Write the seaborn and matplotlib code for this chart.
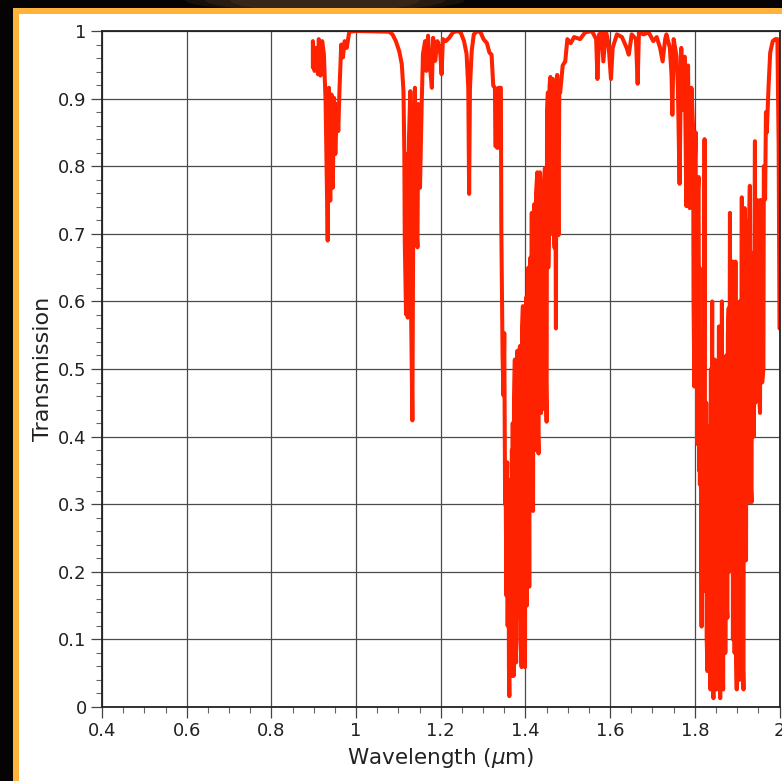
import numpy as np
import pandas as pd
import matplotlib
matplotlib.use('Agg')
import matplotlib.pyplot as plt
from matplotlib.patches import Rectangle, Ellipse
from matplotlib.ticker import MultipleLocator
import seaborn as sns

# wavelength (um) and transmission
wl_a = [0.898, 0.898, 0.902, 0.906, 0.910, 0.912, 0.916, 0.920, 0.924, 0.928,
        0.931, 0.933, 0.936, 0.939, 0.942, 0.945, 0.948, 0.951, 0.955, 0.958,
        0.961, 0.965, 0.969, 0.973, 0.978, 0.984, 1.000, 1.078, 1.086, 1.094,
        1.102, 1.108, 1.112, 1.114, 1.115, 1.118, 1.120, 1.122, 1.125, 1.128,
        1.130, 1.133, 1.136, 1.139, 1.142, 1.145, 1.147, 1.151, 1.155, 1.158,
        1.163, 1.166, 1.170, 1.174, 1.179, 1.182, 1.187, 1.192, 1.198, 1.202,
        1.205, 1.212, 1.220, 1.229, 1.239, 1.247, 1.255, 1.261, 1.265, 1.267,
        1.269, 1.273, 1.278, 1.286, 1.294]
tr_a = [0.946, 0.985, 0.941, 0.975, 0.936, 0.988, 0.934, 0.985, 0.966, 0.897,
        0.768, 0.690, 0.916, 0.749, 0.906, 0.768, 0.901, 0.818, 0.892, 0.852,
        0.916, 0.980, 0.961, 0.985, 0.975, 0.999, 1.000, 0.999, 0.995, 0.985,
        0.970, 0.951, 0.911, 0.818, 0.690, 0.581, 0.818, 0.576, 0.842, 0.911,
        0.581, 0.424, 0.867, 0.916, 0.719, 0.680, 0.892, 0.768, 0.892, 0.966,
        0.985, 0.941, 0.993, 0.951, 0.916, 0.990, 0.956, 0.985, 0.975, 0.936,
        0.988, 0.985, 0.990, 0.998, 1.000, 0.998, 0.985, 0.966, 0.916, 0.759,
        0.916, 0.970, 0.995, 1.000, 0.998]

wl_b = [1.301, 1.309, 1.315, 1.320, 1.324, 1.328, 1.329, 1.334, 1.337, 1.342,
        1.343, 1.346, 1.348, 1.350, 1.352, 1.353, 1.355, 1.356, 1.357, 1.358,
        1.360, 1.361, 1.362, 1.363, 1.365, 1.366, 1.367, 1.368, 1.369, 1.370,
        1.372, 1.373, 1.375, 1.376, 1.378, 1.379, 1.381, 1.382, 1.384, 1.385,
        1.387, 1.388, 1.391, 1.392, 1.394, 1.395, 1.397, 1.398, 1.399, 1.400,
        1.402, 1.403, 1.404, 1.406, 1.407, 1.409, 1.410, 1.412, 1.413, 1.415,
        1.416, 1.418, 1.419, 1.421, 1.422, 1.424, 1.425, 1.428, 1.429, 1.431,
        1.432, 1.434, 1.435, 1.437, 1.438, 1.440, 1.441, 1.443, 1.444, 1.446,
        1.448, 1.450, 1.451, 1.453, 1.454, 1.456, 1.457, 1.459, 1.460, 1.462,
        1.463, 1.465, 1.467, 1.469, 1.470, 1.472, 1.473, 1.475, 1.477, 1.478,
        1.480, 1.482, 1.488, 1.494,
        1.499, 1.507, 1.515, 1.529, 1.541, 1.557, 1.567, 1.570, 1.574, 1.580,
        1.584, 1.590, 1.596, 1.602, 1.606, 1.616, 1.628, 1.639, 1.644, 1.651,
        1.661, 1.665, 1.668, 1.679, 1.691, 1.702, 1.710, 1.718, 1.724, 1.730]
tr_b = [0.988, 0.982, 0.968, 0.965, 0.919, 0.916, 0.830, 0.827, 0.916, 0.916,
        0.711, 0.520, 0.461, 0.553, 0.300, 0.356, 0.165, 0.330, 0.362, 0.120,
        0.329, 0.060, 0.016, 0.300, 0.336, 0.100, 0.046, 0.380, 0.224, 0.420,
        0.046, 0.450, 0.514, 0.150, 0.066, 0.480, 0.527, 0.200, 0.132, 0.500,
        0.534, 0.100, 0.059, 0.560, 0.593, 0.200, 0.105, 0.550, 0.059, 0.450,
        0.606, 0.150, 0.520, 0.290, 0.650, 0.178, 0.620, 0.665, 0.300, 0.731,
        0.350, 0.290, 0.700, 0.744, 0.380, 0.422, 0.760, 0.791, 0.420, 0.375,
        0.720, 0.791, 0.450, 0.435, 0.750, 0.711, 0.460, 0.441, 0.780, 0.797,
        0.500, 0.422, 0.880, 0.909, 0.650, 0.731, 0.920, 0.932, 0.700, 0.705,
        0.920, 0.929, 0.700, 0.679, 0.900, 0.560, 0.880, 0.935, 0.800, 0.698,
        0.920, 0.909, 0.949, 0.955,
        0.988, 0.982, 0.991, 0.988, 0.998, 1.000, 0.988, 0.929, 0.995, 0.998,
        0.955, 1.000, 0.982, 0.929, 0.975, 0.995, 0.991, 0.975, 0.965, 0.995,
        0.988, 0.922, 0.998, 0.995, 0.998, 0.985, 0.991, 0.975, 0.955, 0.988]

wl_c = [1.733, 1.741, 1.745, 1.747, 1.750, 1.757, 1.760, 1.764, 1.768, 1.772,
        1.776, 1.780, 1.784, 1.788, 1.792, 1.796, 1.797, 1.799, 1.800, 1.802,
        1.803, 1.804, 1.806, 1.807, 1.809, 1.810, 1.811, 1.812, 1.813, 1.816,
        1.817, 1.818, 1.820, 1.821, 1.823, 1.824, 1.826, 1.827, 1.828, 1.830,
        1.831, 1.832, 1.834, 1.835, 1.837, 1.838, 1.839, 1.841, 1.842, 1.844,
        1.845, 1.846, 1.847, 1.849, 1.851, 1.852, 1.853, 1.854, 1.855, 1.857,
        1.858, 1.860, 1.861, 1.862, 1.864, 1.865, 1.867, 1.868, 1.870, 1.871,
        1.872, 1.874, 1.875, 1.877, 1.878, 1.880, 1.881, 1.883, 1.884, 1.886,
        1.887, 1.889, 1.890, 1.892, 1.893, 1.894, 1.896, 1.897, 1.899, 1.900,
        1.902, 1.903, 1.905, 1.906, 1.908, 1.909, 1.911, 1.912, 1.915, 1.916,
        1.918, 1.919, 1.921, 1.922, 1.924, 1.925, 1.927, 1.928, 1.930, 1.931,
        1.934, 1.935, 1.938, 1.939, 1.942, 1.943, 1.946, 1.947, 1.950, 1.951,
        1.954, 1.955, 1.958, 1.959, 1.962, 1.963, 1.966, 1.968, 1.970, 1.974,
        1.978, 1.984, 1.990, 1.995, 1.998, 2.000]
tr_c = [0.995, 0.975, 0.935, 0.876, 0.988, 0.962, 0.916, 0.774, 0.975, 0.883,
        0.962, 0.741, 0.949, 0.738, 0.916, 0.856, 0.600, 0.474, 0.800, 0.850,
        0.500, 0.700, 0.389, 0.760, 0.784, 0.350, 0.650, 0.329, 0.550, 0.119,
        0.450, 0.300, 0.553, 0.200, 0.840, 0.300, 0.171, 0.450, 0.100, 0.053,
        0.400, 0.150, 0.415, 0.080, 0.026, 0.500, 0.100, 0.600, 0.050, 0.013,
        0.450, 0.100, 0.514, 0.060, 0.026, 0.480, 0.100, 0.389, 0.050, 0.563,
        0.100, 0.013, 0.500, 0.150, 0.600, 0.060, 0.026, 0.450, 0.237, 0.500,
        0.080, 0.520, 0.150, 0.132, 0.550, 0.590, 0.200, 0.731, 0.250, 0.303,
        0.600, 0.659, 0.100, 0.369, 0.600, 0.080, 0.659, 0.100, 0.026, 0.500,
        0.527, 0.080, 0.040, 0.600, 0.514, 0.150, 0.754, 0.100, 0.026, 0.650,
        0.738, 0.250, 0.217, 0.650, 0.718, 0.350, 0.303, 0.700, 0.771, 0.350,
        0.303, 0.650, 0.672, 0.400, 0.837, 0.450, 0.501, 0.750, 0.698, 0.480,
        0.435, 0.750, 0.672, 0.480, 0.501, 0.800, 0.751, 0.880, 0.850, 0.916,
        0.968, 0.985, 0.988, 0.988, 0.830, 0.560]

df = pd.DataFrame({'wavelength': wl_a + wl_b + wl_c,
                   'transmission': tr_a + tr_b + tr_c})

sns.set_style('white')
plt.rcParams['font.family'] = ['DejaVu Sans']

W, H = 782, 781
fig = plt.figure(figsize=(W / 100, H / 100), dpi=100, facecolor='#050303')

# brownish blur peeking in at the top, then the orange frame and white panel
for w, a in [(280, 0.25), (240, 0.35), (190, 0.45)]:
    fig.patches.append(Ellipse((325 / W, 1.0), w / W, 24 / H, transform=fig.transFigure,
                               facecolor='#4a3320', edgecolor='none', alpha=a, zorder=-3))
fig.patches.append(Rectangle((13 / W, -0.1), 1.0, 1.1 - 7.5 / H, transform=fig.transFigure,
                             facecolor='#ffb33a', edgecolor='none', zorder=-2))
fig.patches.append(Rectangle((19 / W, -0.1), 1.0, 1.1 - 13.5 / H, transform=fig.transFigure,
                             facecolor='white', edgecolor='none', zorder=-1))

ax = fig.add_axes([102 / W, 1 - 707 / H, 677.5 / W, 676 / H])
ax.set_facecolor('white')

sns.lineplot(data=df, x='wavelength', y='transmission', sort=False, estimator=None,
             color='#ff2200', linewidth=2.9, ax=ax)

ax.set_xlim(0.4, 2.0)
ax.set_ylim(0, 1)
ax.set_xticks(np.arange(0.4, 2.01, 0.2))
ax.set_xticklabels(['0.4', '0.6', '0.8', '1', '1.2', '1.4', '1.6', '1.8', '2'])
ax.set_yticks(np.arange(0, 1.01, 0.1))
ax.set_yticklabels(['0', '0.1', '0.2', '0.3', '0.4', '0.5', '0.6', '0.7', '0.8', '0.9', '1'])
ax.xaxis.set_minor_locator(MultipleLocator(0.05))
ax.yaxis.set_minor_locator(MultipleLocator(0.02))

ax.grid(True, which='major', color='#4a4a4a', linewidth=0.9)
ax.set_axisbelow(True)
for s in ax.spines.values():
    s.set_color('#222222')
    s.set_linewidth(1.3)

ax.tick_params(which='major', direction='out', length=8, width=0.9, color='#444444',
               labelsize=13, labelcolor='#222222', pad=3)
ax.tick_params(which='minor', direction='out', length=4, width=0.8, color='#666666')
ax.tick_params(axis='x', which='both', bottom=True)
ax.tick_params(axis='y', which='both', left=True)

ax.set_xlabel(r'Wavelength ($\mu$m)', fontsize=15.5, color='#222222', labelpad=4)
ax.set_ylabel('Transmission', fontsize=16, color='#222222', labelpad=4)

fig.savefig('out.png', dpi=100, facecolor=fig.get_facecolor())
